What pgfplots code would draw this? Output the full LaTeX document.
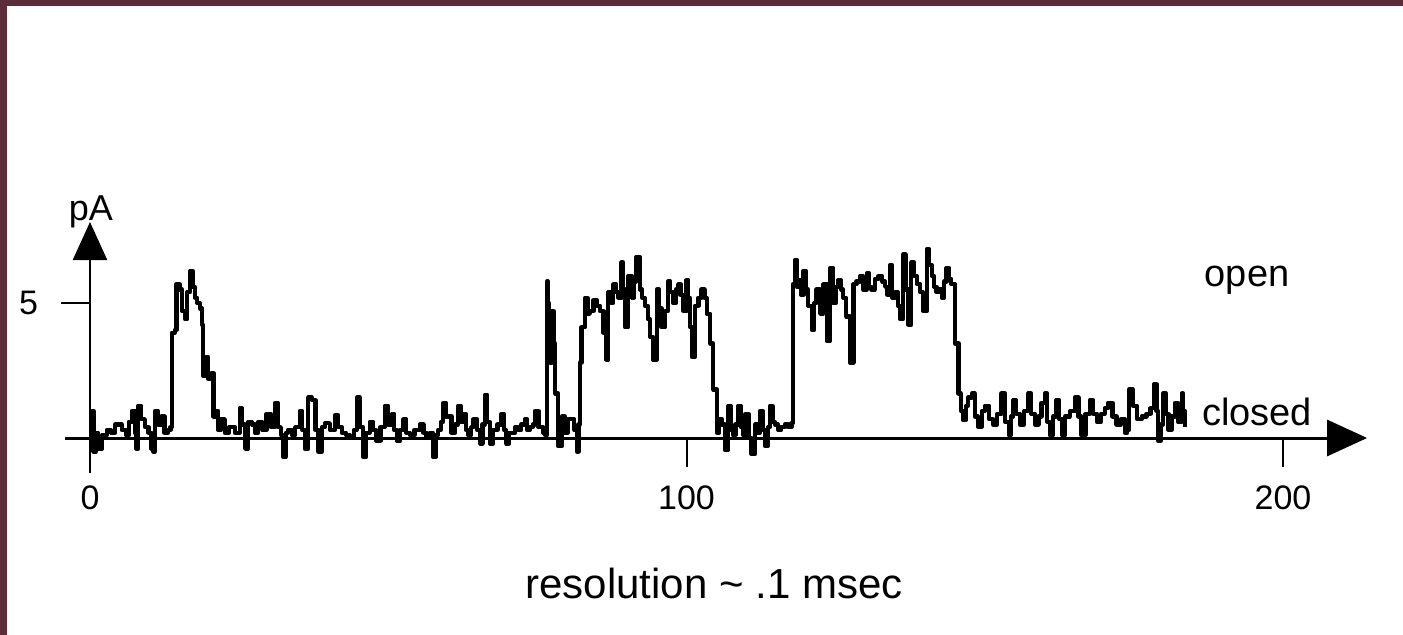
\documentclass[border=0pt]{standalone}
\usepackage{fontspec}
\setmainfont{Liberation Sans}
\usepackage{pgfplots}
\pgfplotsset{compat=1.18}
\usetikzlibrary{arrows.meta}
\definecolor{frame}{HTML}{5C2D38}

\begin{document}
\begin{tikzpicture}
\useasboundingbox (0,0) rectangle (701.5pt,317pt);
\fill[white] (-5pt,-5pt) rectangle (710pt,325pt);
\fill[frame] (-5pt,314pt) rectangle (710pt,325pt);
\fill[frame] (-5pt,-5pt) rectangle (3.5pt,325pt);
\begin{axis}[
    anchor=origin, at={(45pt,98pt)},
    x=2.9825pt, y=13.5pt,
    xmin=-4.19, xmax=214.1, ymin=-1.3, ymax=8.0,
    axis lines=middle,
    axis line style={line width=1.2pt},
    every inner x axis line/.append style={-{Triangle[length=20pt,width=18pt]}, line width=1.5pt},
    every inner y axis line/.append style={-{Triangle[length=19pt,width=17pt]}},
    xtick={0,100,200}, ytick={5},
    hide obscured x ticks=false,
    tick align=outside,
    major tick length=14.5pt,
    tick style={line width=1pt, black},
    ticklabel style={font=\fontsize{17}{19}\selectfont},
    /pgf/number format/assume math mode=true,
    xticklabel style={yshift=-6pt},
    yticklabel style={xshift=-8pt},
    clip=false,
]
\addplot[black, line width=2.1pt, const plot, line join=round] coordinates {
(0,0) (0.3,1.0) (0.6,-0.5) (1.0,0.2) (1.4,-0.4) (2.0,0.1) (2.8,0.3) (3.5,0.2) (4.2,0.5) (5.3,0.3) (6.0,0.1) (6.5,0.6) (7.0,1.0) (7.5,0.2) (7.8,-0.4) (8.1,1.2) (8.6,0.7) (9.2,0.4) (9.8,0.2) (10.3,-0.4) (10.6,-0.5) (10.9,1.0) (11.4,0.5) (12.0,0.8) (12.5,0.2) (13.1,0.3)
(13.5,0.4) (13.7,3.9) (14.2,4.0) (14.5,5.7) (15.0,5.5) (15.4,4.7) (15.9,4.4) (16.3,5.4) (16.8,6.2) (17.2,5.6) (17.6,5.2) (18.0,5.0) (18.4,4.8) (18.8,4.2) (19.0,2.3) (19.4,3.0) (19.8,2.2) (20.3,2.4) (20.7,0.8) (21.1,1.0) (21.5,0.3) (22.0,0.7) (22.6,0.2) (23.3,0.4) (24.3,0.2) (25.1,1.1) (25.5,0.5) (26.0,-0.4) (26.5,0.6) (27.1,0.5) (27.6,0.2) (28.2,0.6) (28.9,0.3) (29.6,0.9) (30.3,0.4) (31.0,1.3) (31.5,0.4) (32.0,0.1) (32.4,-0.7) (32.8,0.2) (33.2,0.3) (33.8,0.1) (34.4,0.4) (35.2,1.0) (35.6,0.3) (36.0,-0.4) (36.6,1.5)
(37.2,1.4) (37.8,0.3) (38.3,-0.5) (38.9,0.4) (39.4,0.55) (40.2,0.3) (41.1,0.85) (41.6,0.4) (42.2,0.2) (42.9,0.1) (43.6,0.05) (44.2,0.3) (44.7,1.5) (45.2,0.4) (45.8,-0.7) (46.3,0.2) (46.9,0.6) (47.5,0.3) (48.0,-0.1) (48.7,0.4) (49.4,1.2) (50.0,0.5) (50.6,0.9) (51.0,0.3) (51.4,-0.1) (52.0,0.3) (52.5,0.7) (53.0,0.2) (53.6,0.1) (54.4,0.3) (55.3,0.5) (55.9,0.2) (56.4,0.0) (57.0,0.2) (57.5,-0.7) (58.0,0.1) (58.4,0.3) (58.8,0.6) (59.2,1.3) (59.7,0.8) (60.1,0.8) (60.6,0.2) (61.2,0.5) (61.7,1.2) (62.2,0.6) (62.6,0.9) (63.0,0.3) (63.4,0.1) (63.9,0.4) (64.3,0.7) (64.9,0.3) (65.4,-0.2) (65.8,0.5) (66.2,1.6) (66.6,0.6) (67.0,-0.2) (67.6,0.3) (68.3,0.5) (69.0,0.9) (69.4,0.3) (69.8,-0.2) (70.3,0.2) (70.7,0.2) (71.3,0.4) (71.8,0.3) (72.3,0.5) (72.9,0.7) (73.3,0.3) (73.7,0.4)
(74.2,0.5) (74.6,1.0) (75.2,0.4) (76.0,0.2) (76.3,0.1) (76.6,5.8) (76.8,5.0) (77.0,4.1) (77.1,2.8) (77.4,4.7) (77.7,3.5) (78.0,1.65) (78.5,-0.3) (79.1,0.8) (79.6,0.2) (80.1,0.7) (80.7,0.7) (81.2,0.3) (81.6,-0.5) (81.9,0.5) (82.1,1.0) (82.2,2.8) (82.4,4.1) (83.0,5.2) (83.4,4.6) (83.8,4.7) (84.4,5.1) (85.0,4.9) (85.5,4.7) (86.1,3.9) (86.6,2.9) (86.9,5.4) (87.3,5.0) (87.7,5.7) (88.2,5.4) (88.6,5.2) (89.1,6.5) (89.4,5.5) (89.7,4.1) (90.2,6.0) (90.8,5.2) (91.2,5.8) (91.6,6.7) (92.2,5.5) (92.6,5.2) (93.0,4.9) (93.5,4.4) (93.9,3.75) (94.4,2.9) (95.0,5.5) (95.4,4.8) (95.8,4.1) (96.4,4.7) (96.9,5.8) (97.3,5.4) (97.8,5.0) (98.2,5.5) (98.6,5.7) (99.0,5.3) (99.5,4.7) (100.0,5.85) (100.3,5.2) (100.6,4.1) (100.9,3.0) (101.4,4.9) (102.0,5.2) (102.5,5.5) (103.0,5.2) (103.4,4.6) (104.0,3.5) (104.5,1.8) (105.1,0.2) (105.5,0.7) (105.9,0.5) (106.5,-0.45) (107.0,1.2) (107.4,0.3) (107.8,0.1) (108.2,0.5) (108.7,1.2) (109.1,0.4) (109.5,0.1) (109.9,0.9) (110.4,0.0)
(110.9,-0.6) (111.5,0.5) (111.9,0.2) (112.3,1.0) (112.8,0.3) (113.2,-0.3) (113.6,0.4) (114.0,1.2) (114.4,0.6) (114.8,0.5) (115.4,0.3) (115.9,0.4) (116.5,0.5) (117.0,0.4) (117.6,0.55) (117.8,3.5) (117.9,5.7) (118.2,6.6) (118.5,5.6) (118.8,5.85) (119.2,5.3) (119.6,6.2) (120.0,5.5) (120.4,4.9) (121.0,4.0) (121.4,5.0) (121.8,5.5) (122.4,4.6) (122.9,5.7) (123.5,3.6) (124.1,6.3) (124.6,5.0) (125.0,5.6) (125.4,5.85) (125.9,5.5) (126.3,5.2) (126.8,4.5) (127.4,2.8) (128.0,5.7) (128.5,5.8) (129.1,6.0) (129.6,5.5) (130.2,6.1) (130.6,5.6) (131.0,5.5) (131.6,5.9) (132.2,6.0) (132.8,5.8) (133.3,5.6) (133.7,5.3) (134.1,6.4) (134.5,5.2) (135.0,5.4) (135.4,4.9) (135.8,4.4) (136.3,6.8) (136.7,5.5) (137.2,4.2) (137.7,6.5) (138.2,6.0) (138.6,5.7) (139.2,5.4) (139.7,4.7) (140.3,7.0) (140.7,6.4) (141.1,6.0) (141.5,5.6) (141.9,5.4) (142.3,5.5) (142.8,5.2) (143.2,5.8) (143.6,6.3) (144.0,5.9) (144.4,5.7) (145.0,3.5) (145.6,1.65) (146.0,1.0) (146.4,0.66) (146.8,1.2) (147.2,1.5)
(147.8,1.65) (148.3,0.8) (148.9,0.42) (149.5,1.0) (150.0,1.2) (150.7,0.7) (151.4,0.5) (152.1,0.9) (152.8,1.65) (153.4,0.6) (154.0,0.1) (154.4,0.8) (154.8,1.4) (155.3,0.9) (155.9,0.5) (156.6,1.0) (157.3,1.65) (157.8,0.9) (158.4,0.5) (159.0,0.8) (159.5,1.3) (160.1,1.65) (160.5,0.6) (160.9,0.1) (161.5,0.8) (162.0,1.4) (162.5,0.7) (162.9,0.1) (163.5,0.8) (164.3,1.0) (165.1,1.5) (165.7,0.8) (166.2,0.1) (166.9,0.9) (167.6,1.4) (168.2,0.9) (168.8,0.6) (169.5,0.9) (170.1,1.1) (170.7,1.3) (171.4,0.8) (172.1,0.5) (172.8,0.7) (173.5,0.2) (173.9,0.3) (174.2,1.8) (174.8,1.2) (175.5,0.7) (176.3,0.8) (177.1,0.9) (177.8,1.1) (178.4,2.0) (178.8,1.0) (179.1,-0.1) (179.5,0.5) (179.9,1.65) (180.4,0.9) (180.8,0.3) (181.3,0.8) (181.9,1.3) (182.4,0.6) (183.0,1.65) (183.3,1.0) (183.6,0.4)
};
\end{axis}
\node[font=\fontsize{18}{20}\selectfont] at (45.5pt,211pt) {pA};
\node[font=\fontsize{19}{22}\selectfont] at (623.5pt,177pt) {open};
\node[font=\fontsize{19}{22}\selectfont, fill=white, inner sep=1pt] at (628.5pt,111pt) {closed};
\node[font=\fontsize{21}{24}\selectfont] at (357pt,25.5pt) {resolution \textasciitilde{} .1 msec};
\end{tikzpicture}
\end{document}
